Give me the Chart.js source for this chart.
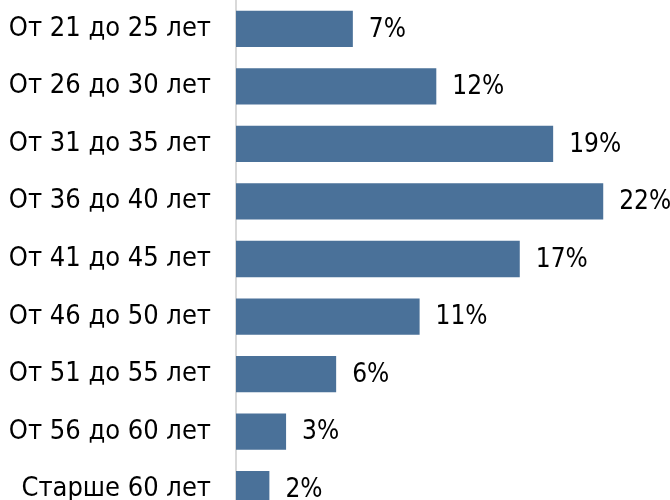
<!DOCTYPE html>
<html>
<head>
<meta charset="utf-8">
<script src="https://cdn.jsdelivr.net/npm/chart.js@4"></script>
<style>
  html, body { margin: 0; padding: 0; background: #fff; overflow: hidden; }
  #wrap { position: relative; width: 670px; height: 518px; }
</style>
</head>
<body>
<div id="wrap"><canvas id="ageChart"></canvas></div>
<script>
const ageGroups = ['От 21 до 25 лет', 'От 26 до 30 лет', 'От 31 до 35 лет', 'От 36 до 40 лет',
  'От 41 до 45 лет', 'От 46 до 50 лет', 'От 51 до 55 лет', 'От 56 до 60 лет', 'Старше 60 лет'];
const shares = [7, 12, 19, 22, 17, 11, 6, 3, 2];

const FONT = '"DejaVu Sans Condensed", "DejaVu Sans", sans-serif';

// draws the "7%" labels at the end of each bar
const valueLabels = {
  id: 'valueLabels',
  afterDatasetsDraw(chart) {
    const ctx = chart.ctx;
    const meta = chart.getDatasetMeta(0);
    ctx.save();
    ctx.font = '26px ' + FONT;
    ctx.fillStyle = '#000';
    ctx.textAlign = 'left';
    ctx.textBaseline = 'middle';
    meta.data.forEach((bar, i) => {
      ctx.fillText(shares[i] + '%', bar.x + 16, bar.y + 1);
    });
    ctx.restore();
  }
};

new Chart(document.getElementById('ageChart'), {
  type: 'bar',
  data: {
    labels: ageGroups,
    datasets: [{
      data: shares,
      backgroundColor: '#4a7199',
      categoryPercentage: 1,
      barPercentage: 0.63
    }]
  },
  options: {
    indexAxis: 'y',
    responsive: true,
    maintainAspectRatio: false,
    animation: false,
    layout: { padding: 0 },
    plugins: { legend: { display: false }, tooltip: { enabled: false } },
    scales: {
      x: {
        min: 0,
        max: 26,
        display: false
      },
      y: {
        grid: { display: false, drawTicks: false },
        border: { display: true, color: '#d9d9d9', width: 2 },
        ticks: { color: '#000', font: { family: FONT, size: 27 }, padding: 25 },
        afterFit(scale) {
          scale.width = 236;
          scale.paddingTop = 0;
          scale.paddingBottom = 0;
        }
      }
    }
  },
  plugins: [valueLabels]
});
</script>
</body>
</html>
